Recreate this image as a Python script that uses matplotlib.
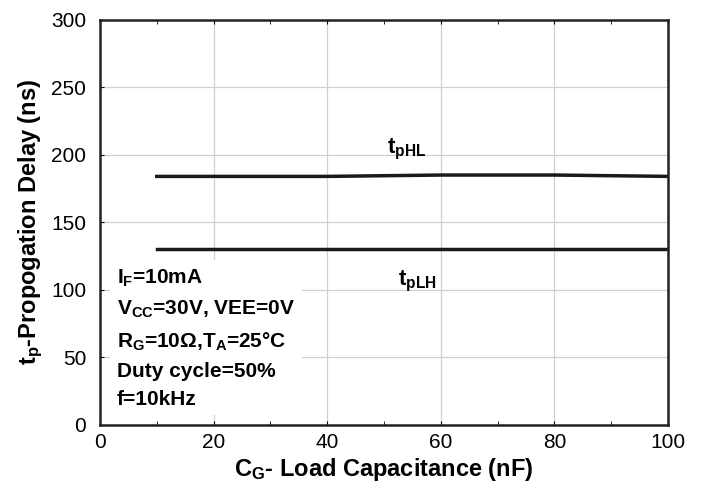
import numpy as np
import matplotlib
matplotlib.use("Agg")
import matplotlib.pyplot as plt
from matplotlib.ticker import MultipleLocator

plt.rcParams['font.family'] = ['Liberation Sans', 'DejaVu Sans']
plt.rcParams['mathtext.fontset'] = 'custom'
plt.rcParams['mathtext.rm'] = 'Liberation Sans:bold'
plt.rcParams['mathtext.bf'] = 'Liberation Sans:bold'
plt.rcParams['mathtext.it'] = 'Liberation Sans:bold'

# данные
cap_nf = [10, 20, 40, 60, 80, 100]
t_phl = [184, 184, 184, 185, 185, 184]
t_plh = [130, 130, 130, 130, 130, 130]

x_ticks = [0, 20, 40, 60, 80, 100]
y_ticks = [0, 50, 100, 150, 200, 250, 300]

conditions = "\n".join([
    r"$\mathbf{I_F}$=10mA",
    r"$\mathbf{V_{CC}}$=30V, VEE=0V",
    r"$\mathbf{R_G}$=10Ω,$\mathbf{T_A}$=25°C",
    "Duty cycle=50%",
    "f=10kHz",
])

fig = plt.figure(figsize=(7.04, 4.94), dpi=100)
ax = fig.add_axes([0.142, 0.140, 0.807, 0.820])

ax.plot(cap_nf, t_phl, color='#1a1a1a', lw=2.5)
ax.plot(cap_nf, t_plh, color='#1a1a1a', lw=2.5)

ax.set_xlim(0, 100)
ax.set_ylim(0, 300)
ax.set_xticks(x_ticks)
ax.set_yticks(y_ticks)
ax.xaxis.set_minor_locator(MultipleLocator(10))
ax.grid(True, which='major', color='#d0d0d0', lw=0.9)
ax.set_axisbelow(True)
ax.tick_params(which='both', direction='in', labelsize=15, top=True, length=3)
ax.tick_params(axis='x', pad=6)
ax.tick_params(axis='y', pad=10)
for s in ax.spines.values():
    s.set_linewidth(1.8)
    s.set_color('#222222')

ax.set_xlabel(r"$\mathbf{C_G}$- Load Capacitance (nF)", fontsize=17,
              fontweight='bold', labelpad=3)
ax.set_ylabel(r"$\mathbf{t_p}$-Propogation Delay (ns)", fontsize=17,
              fontweight='bold', labelpad=4)

ax.text(50.5, 204, r"$\mathbf{t_{pHL}}$", fontsize=16, ha='left', va='center')
ax.text(52.5, 106, r"$\mathbf{t_{pLH}}$", fontsize=16, ha='left', va='center')

ax.text(3.0, 15, conditions, fontsize=15, fontweight='bold', ha='left',
        va='baseline', linespacing=1.6,
        bbox=dict(facecolor='white', edgecolor='none', pad=5))

fig.savefig("out.png", dpi=100)
